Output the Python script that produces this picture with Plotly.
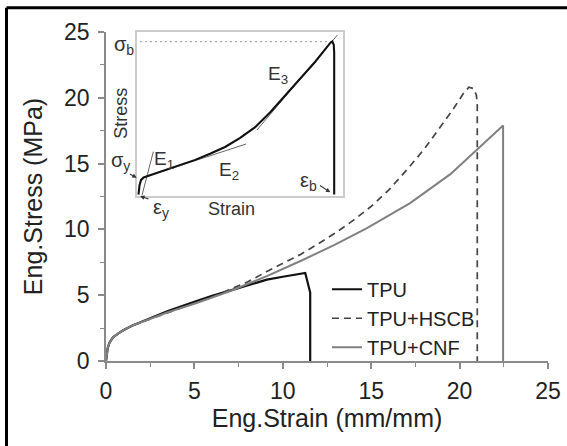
import plotly.graph_objects as go

# ---------------- main data (Eng. strain mm/mm, Eng. stress MPa) ----------------
tpu_strain = [0, 0.05, 0.1, 0.2, 0.4, 0.7, 1.0, 1.5, 2.5, 3.5, 5.0, 6.0, 7.2, 8.0, 9.1, 10.0, 11.27, 11.55, 11.55]
tpu_stress = [0, 0.7, 1.0, 1.4, 1.8, 2.1, 2.35, 2.7, 3.25, 3.8, 4.5, 4.95, 5.42, 5.75, 6.18, 6.4, 6.69, 5.2, 0]

hscb_strain = [0, 0.05, 0.1, 0.2, 0.4, 0.7, 1.0, 1.5, 2.5, 3.5, 5.0, 6.0, 7.0, 8.0, 9.1, 11.0, 12.0, 13.0,
               14.0, 15.0, 16.0, 17.0, 18.0, 19.0, 19.67, 20.2, 20.52, 20.8, 20.95, 21.0, 21.0]
hscb_stress = [0, 0.7, 1.0, 1.4, 1.8, 2.1, 2.35, 2.7, 3.2, 3.7, 4.4, 4.85, 5.4, 6.0, 6.8, 8.1, 8.9, 9.75,
               10.7, 11.75, 13.0, 14.5, 16.1, 17.9, 19.2, 20.3, 20.8, 20.7, 20.2, 19.4, 0]

cnf_strain = [0, 0.05, 0.1, 0.2, 0.4, 0.7, 1.0, 1.5, 2.5, 3.5, 5.0, 6.0, 7.0, 8.0, 9.1, 11.0, 12.9, 14.76,
              17.2, 19.48, 21.0, 22.46, 22.46]
cnf_stress = [0, 0.7, 1.0, 1.4, 1.8, 2.1, 2.35, 2.7, 3.2, 3.7, 4.35, 4.8, 5.3, 5.85, 6.45, 7.6, 8.8, 10.1,
              12.0, 14.2, 16.1, 17.9, 0]

x_ticks = [0, 5, 10, 15, 20, 25]
y_ticks = [0, 5, 10, 15, 20, 25]

# ---------------- inset (schematic, normalised strain / stress) ----------------
inset_strain = [0.007, 0.012, 0.019, 0.032, 0.063, 0.136, 0.209, 0.282, 0.354, 0.427, 0.5, 0.573, 0.646,
                0.718, 0.791, 0.864, 0.937, 0.947, 0.954, 0.956, 0.956]
inset_stress = [0.006, 0.061, 0.094, 0.110, 0.124, 0.155, 0.185, 0.218, 0.255, 0.297, 0.352, 0.418, 0.509,
                0.612, 0.715, 0.818, 0.933, 0.942, 0.921, 0.873, 0.006]
e1_strain, e1_stress = [0.023, 0.079], [-0.004, 0.268]
e2_strain, e2_stress = [0.029, 0.529], [0.109, 0.315]
e3_strain, e3_stress = [0.581, 0.972], [0.40, 0.982]
sigb_strain, sigb_stress = [-0.01, 0.942], [0.941, 0.941]

FONT = "Liberation Sans, Arial, sans-serif"
AXC = "#8a8a8a"
TXT = "#222222"

W, H = 567, 446
ML, MR, MT, MB = 106, 19, 32, 85
PW, PH = W - ML - MR, H - MT - MB
IX = [0.0702, 0.5368]   # inset x-domain
IY = [0.503, 1.0]       # inset y-domain

def to_paper(u, v):
    return IX[0] + u * (IX[1] - IX[0]), IY[0] + v * (IY[1] - IY[0])

fig = go.Figure()
fig.add_trace(go.Scatter(x=tpu_strain, y=tpu_stress, mode="lines", name="TPU",
                         line=dict(color="#111111", width=2.2)))
fig.add_trace(go.Scatter(x=hscb_strain, y=hscb_stress, mode="lines", name="TPU+HSCB",
                         line=dict(color="#444444", width=1.7, dash="7px,5px")))
fig.add_trace(go.Scatter(x=cnf_strain, y=cnf_stress, mode="lines", name="TPU+CNF",
                         line=dict(color="#808080", width=2.0)))

# inset traces
fig.add_trace(go.Scatter(x=sigb_strain, y=sigb_stress, mode="lines", xaxis="x2", yaxis="y2", showlegend=False,
                         line=dict(color="#aaaaaa", width=1.2, dash="2px,3px"), cliponaxis=False))
for xs, ys in [(e1_strain, e1_stress), (e2_strain, e2_stress), (e3_strain, e3_stress)]:
    fig.add_trace(go.Scatter(x=xs, y=ys, mode="lines", xaxis="x2", yaxis="y2", showlegend=False,
                             line=dict(color="#666666", width=1.0), cliponaxis=False))
fig.add_trace(go.Scatter(x=inset_strain, y=inset_stress, mode="lines", xaxis="x2", yaxis="y2",
                         showlegend=False, line=dict(color="#111111", width=2.1), cliponaxis=False))

ann = []
def lab(text, u, v, size=19, angle=0):
    px, py = to_paper(u, v)
    ann.append(dict(text=text, x=px, y=py, xref="paper", yref="paper", showarrow=False, textangle=angle,
                    xanchor="center", yanchor="middle",
                    font=dict(family=FONT, size=size, color="#333333")))

lab("σ<sub>b</sub>", -0.063, 0.915, size=20)
lab("σ<sub>y</sub>", -0.078, 0.205, size=20)
lab("E<sub>1</sub>", 0.131, 0.215)
lab("E<sub>2</sub>", 0.447, 0.150)
lab("E<sub>3</sub>", 0.684, 0.737)
lab("ε<sub>y</sub>", 0.117, -0.080, size=20)
lab("ε<sub>b</sub>", 0.830, 0.085, size=20)
lab("Stress", -0.075, 0.503, size=18, angle=-90)
lab("Strain", 0.46, -0.085, size=18)

IPW = (IX[1] - IX[0]) * PW
IPH = (IY[1] - IY[0]) * PH

def arrow(tu, tv, hu, hv):
    px, py = to_paper(hu, hv)
    ann.append(dict(x=px, y=py, xref="paper", yref="paper", axref="pixel", ayref="pixel",
                    ax=(tu - hu) * IPW, ay=-(tv - hv) * IPH,
                    text="", showarrow=True, arrowhead=2, arrowsize=0.8, arrowwidth=1.1,
                    arrowcolor="#333333", standoff=0))

arrow(-0.042, 0.137, -0.002, 0.108)
arrow(0.063, -0.024, 0.015, -0.004)
arrow(0.880, 0.067, 0.937, 0.020)

fig.update_layout(
    width=W, height=H,
    margin=dict(l=ML, r=MR, t=MT, b=MB, autoexpand=False),
    paper_bgcolor="white", plot_bgcolor="white",
    font=dict(family=FONT, color=TXT),
    annotations=ann,
    showlegend=True,
    legend=dict(x=0.50, y=0.13, xanchor="left", yanchor="middle", bgcolor="rgba(0,0,0,0)",
                font=dict(family=FONT, size=20, color=TXT), tracegroupgap=0),
    xaxis=dict(range=[0, 25], tickvals=x_ticks, ticks="outside", ticklen=6, tickwidth=1.5, tickcolor=AXC,
               showline=True, linecolor=AXC, linewidth=1.5, showgrid=False, zeroline=False, automargin=False,
               tickfont=dict(family=FONT, size=23, color=TXT), ticklabelstandoff=3,
               minor=dict(dtick=2.5, ticks="outside", ticklen=4, tickwidth=1.2, tickcolor=AXC),
               title=dict(text="Eng.Strain (mm/mm)", font=dict(family=FONT, size=25, color=TXT), standoff=6)),
    yaxis=dict(range=[0, 25], tickvals=y_ticks, ticks="outside", ticklen=6, tickwidth=1.5, tickcolor=AXC,
               showline=True, linecolor=AXC, linewidth=1.5, showgrid=False, zeroline=False, automargin=False,
               tickfont=dict(family=FONT, size=23, color=TXT), ticklabelstandoff=4,
               minor=dict(dtick=2.5, ticks="outside", ticklen=4, tickwidth=1.2, tickcolor=AXC),
               title=dict(text="Eng.Stress (MPa)", font=dict(family=FONT, size=25, color=TXT), standoff=14)),
    xaxis2=dict(domain=IX, range=[0, 1], anchor="y2", showline=True, mirror=True,
                linecolor="#cccccc", linewidth=1.5, showticklabels=False, ticks="", showgrid=False,
                zeroline=False),
    yaxis2=dict(domain=IY, range=[0, 1], anchor="x2", showline=True, mirror=True,
                linecolor="#cccccc", linewidth=1.5, showticklabels=False, ticks="", showgrid=False,
                zeroline=False),
    shapes=[
        dict(type="line", xref="paper", yref="paper", x0=(6.5 - ML) / PW, x1=(6.5 - ML) / PW,
             y0=(H - MB - 446) / PH, y1=(H - MB - 7.8) / PH, line=dict(color="black", width=3)),
        dict(type="line", xref="paper", yref="paper", x0=(6.5 - ML) / PW, x1=(567 - ML) / PW,
             y0=(H - MB - 7.8) / PH, y1=(H - MB - 7.8) / PH, line=dict(color="black", width=3)),
    ],
)

fig.write_html("out.html", config={"displayModeBar": False},
               post_script="document.body.style.margin='0';")
